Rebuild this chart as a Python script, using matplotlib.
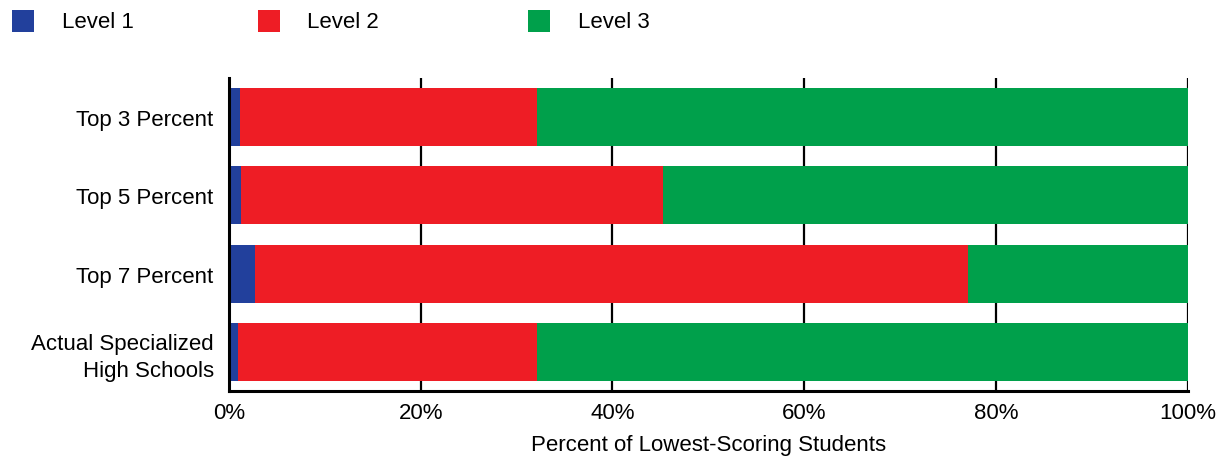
import matplotlib
matplotlib.use("Agg")
import matplotlib.pyplot as plt
from matplotlib.patches import Rectangle
import numpy as np

categories = ["Top 3 Percent", "Top 5 Percent", "Top 7 Percent", "Actual Specialized\nHigh Schools"]
level1 = [1.1, 1.3, 2.7, 0.9]
level2 = [31.0, 44.0, 74.4, 31.2]
level3 = [67.9, 54.7, 22.9, 67.9]
series_names = ["Level 1", "Level 2", "Level 3"]
colors = ["#22409C", "#EE1D25", "#00A04B"]
xticks = [0, 20, 40, 60, 80, 100]
xticklabels = ["0%", "20%", "40%", "60%", "80%", "100%"]

plt.rcParams['font.family'] = ['Liberation Sans', 'DejaVu Sans']

W, H = 1223, 460
FS = 16
fig = plt.figure(figsize=(W/100, H/100), dpi=100)
ax = fig.add_axes([229/W, 1-392/H, (1187.5-229)/W, (392-79)/H])

y = np.arange(len(categories))
left = np.zeros(len(categories))
for vals, c in zip([level1, level2, level3], colors):
    ax.barh(y, vals, left=left, height=0.74, color=c, zorder=3)
    left = left + np.array(vals)

ax.set_ylim(3.5, -0.5)
ax.set_xlim(0, 100)
ax.set_yticks(y)
ax.set_yticklabels(categories, fontsize=FS, ha='right', multialignment='right', linespacing=1.35)
for lbl in ax.get_yticklabels():
    lbl.set_y(lbl.get_position()[1])
ax.set_xticks(xticks)
ax.set_xticklabels(xticklabels, fontsize=FS)
ax.tick_params(axis='both', length=0)
ax.tick_params(axis='x', pad=8)
ax.tick_params(axis='y', pad=11)
ax.grid(axis='x', color='black', linewidth=1.6, zorder=1)
for s in ['top', 'right']:
    ax.spines[s].set_visible(False)
for s in ['left', 'bottom']:
    ax.spines[s].set_linewidth(2.2)
    ax.spines[s].set_color('black')
    ax.spines[s].set_zorder(4)
ax.set_xlabel("Percent of Lowest-Scoring Students", fontsize=FS, labelpad=8)

# legend
sq_x = [12, 258, 528]
tx_x = [62, 307, 578]
for name, c, sx, tx in zip(series_names, colors, sq_x, tx_x):
    fig.patches.append(Rectangle((sx/W, 1-33/H), 22/W, 22/H, transform=fig.transFigure,
                                 facecolor=c, edgecolor='none'))
    fig.text(tx/W, 1-22/H, name, fontsize=FS, va='center', ha='left')

fig.savefig("out.png", dpi=100)
